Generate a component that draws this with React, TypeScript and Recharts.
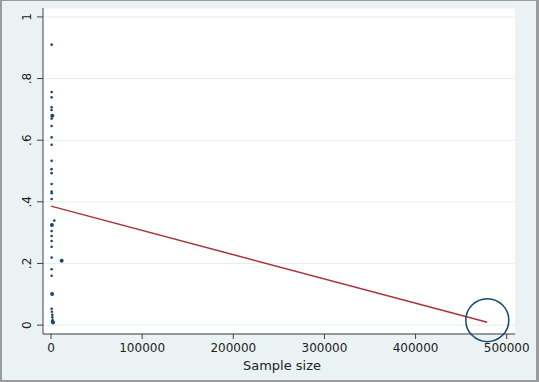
import { CartesianGrid, ReferenceDot, Scatter, ScatterChart, XAxis, YAxis } from 'recharts'

// study sample sizes vs. estimated proportion
const sampleSizes = [
  700, 700, 700, 700, 600, 700, 700, 700, 700, 700, 600, 700, 700, 700, 800, 700, 3600, 700, 700, 700,
  700, 700, 700, 700, 700, 1400, 1500, 1800, 1200, 2500, 1000,
]
const proportions = [
  0.91, 0.756, 0.739, 0.707, 0.698, 0.67, 0.646, 0.609, 0.585, 0.533, 0.506, 0.493, 0.458, 0.433, 0.428,
  0.409, 0.339, 0.305, 0.289, 0.273, 0.254, 0.219, 0.181, 0.16, 0.053, 0.033, 0.025, 0.016, 0.012, 0.01,
  0.043,
]
// the larger markers
const bigSizes = [1400, 1000, 11700, 1200, 2200]
const bigProportions = [0.679, 0.325, 0.209, 0.101, 0.008]

const fitX = [0, 478700]
const fitY = [0.386, 0.009]

const xTicks = [0, 100000, 200000, 300000, 400000, 500000]
const yTicks = [0, 0.2, 0.4, 0.6, 0.8, 1]

const points = sampleSizes.map((x, i) => ({ x, y: proportions[i] }))
const bigPoints = bigSizes.map((x, i) => ({ x, y: bigProportions[i] }))
const fit = fitX.map((x, i) => ({ x, y: fitY[i] }))

const navy = '#1a476f'
const maroon = '#a8323a'
const font = '"DejaVu Sans", sans-serif'

const fmtY = (v: number) => (v === 0 || v === 1 ? String(v) : String(v).replace(/^0/, ''))

const YTick = ({ y, payload }: any) => {
  const bx = 31
  return (
    <text
      x={bx}
      y={y}
      transform={`rotate(-90 ${bx} ${y})`}
      textAnchor="middle"
      fontSize={12}
      fill="#222"
      fontFamily={font}
    >
      {fmtY(payload.value)}
    </text>
  )
}

const dot = (r: number) => (p: any) => <circle cx={p.cx} cy={p.cy} r={r} fill={navy} />

export default function App() {
  return (
    <div style={{ position: 'absolute', left: 0, top: 0, width: 539, height: 382, background: '#eaf2f3' }}>
      <ScatterChart width={539} height={382} margin={{ top: 8, right: 24, bottom: 8, left: 0 }}>
        <CartesianGrid vertical={false} stroke="#e4eef1" fill="#ffffff" />
        <XAxis
          type="number"
          dataKey="x"
          domain={[-8780, 509100]}
          allowDataOverflow
          ticks={xTicks}
          interval={0}
          height={40}
          stroke="#404040"
          tickSize={5}
          tickMargin={4}
          tick={{ fontSize: 12, fill: '#222', fontFamily: font }}
          label={{ value: 'Sample size', position: 'insideBottom', offset: 4, dx: 3, fontSize: 13, fill: '#222', fontFamily: font }}
        />
        <YAxis
          type="number"
          dataKey="y"
          domain={[-0.029, 1.029]}
          allowDataOverflow
          ticks={yTicks}
          interval={0}
          width={43}
          stroke="#404040"
          tickSize={6}
          tick={<YTick />}
        />
        <Scatter data={fit} line={{ stroke: maroon, strokeWidth: 1.5 }} shape={() => <g />} isAnimationActive={false} />
        <Scatter data={points} shape={dot(1.3)} isAnimationActive={false} />
        <Scatter data={bigPoints} shape={dot(2)} isAnimationActive={false} />
        <ReferenceDot x={478700} y={0.016} r={21.5} fill="none" stroke={navy} strokeWidth={1.5} ifOverflow="visible" />
      </ScatterChart>
      <div
        style={{
          position: 'absolute',
          inset: 0,
          boxSizing: 'border-box',
          borderStyle: 'solid',
          borderColor: '#9b9b9b',
          borderWidth: '1px 3px 2px 2px',
          pointerEvents: 'none',
        }}
      />
    </div>
  )
}
